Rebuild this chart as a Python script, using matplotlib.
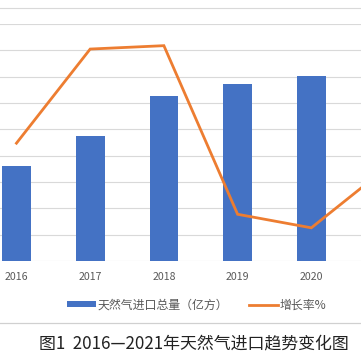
import matplotlib.pyplot as plt
import numpy as np
from matplotlib.lines import Line2D
from matplotlib.patches import Patch

plt.rcParams['font.family'] = ['Noto Sans CJK SC', 'DejaVu Sans']

years = ['2016', '2017', '2018', '2019', '2020', '2021']
imports = [724, 953, 1250, 1342, 1403, 1680]      # 天然气进口总量（亿方）
growth = [17.4, 31.3, 31.8, 6.9, 4.9, 13.6]        # 增长率%

blue = '#4472C4'
orange = '#ED7D31'
grid = '#D9D9D9'

fig = plt.figure(figsize=(3.61, 3.61), dpi=100)

# plot area is wider than the picture: it is cropped on both sides
ax = fig.add_axes([-20.4 / 361, 100 / 361, 442.3 / 361, 237 / 361])
x = np.arange(len(years))
ax.bar(x, imports, width=0.39, color=blue, zorder=2)
ax.set_xlim(-0.5, len(years) - 0.5)
ax.set_ylim(0, 1800)
ax.set_yticks(np.arange(0, 1801, 200))
ax.yaxis.grid(True, color=grid, linewidth=0.8, zorder=0)
ax.tick_params(axis='y', left=False, labelleft=False)
# 2021 label falls outside the cropped picture
ax.set_xticks(x[:5])
ax.set_xticklabels(years[:5], fontsize=7.6, color='#595959')
ax.tick_params(axis='x', length=0, pad=8)
for s in ax.spines.values():
    s.set_visible(False)

ax2 = ax.twinx()
ax2.plot(x, growth, color=orange, linewidth=2.0, zorder=3,
         solid_joinstyle='miter')
ax2.set_ylim(0, 35)
ax2.tick_params(axis='y', right=False, labelright=False)
for s in ax2.spines.values():
    s.set_visible(False)

# outer frame lines of the chart
fig.add_artist(Line2D([0, 1], [1 - 8 / 361] * 2, color=grid, linewidth=0.8))
fig.add_artist(Line2D([0, 1], [1 - 323 / 361] * 2, color='#D0D0D0', linewidth=0.9))

handles = [Patch(facecolor=blue, edgecolor='none'),
           Line2D([0], [0], color=orange, linewidth=2.0)]
labels = ['天然气进口总量（亿方）', '增长率%']
fig.legend(handles, labels, loc='center', bbox_to_anchor=(0.545, 1 - 305 / 361),
           ncol=2, frameon=False, fontsize=8.6, handlelength=2.4, handleheight=0.45,
           handletextpad=0.1, columnspacing=1.8, labelcolor='#595959')

fig.text(0.536, 1 - 343 / 361, '图1  2016—2021年天然气进口趋势变化图',
         ha='center', va='center', fontsize=12.2, color='#222222')

fig.savefig('out.png', dpi=100)
